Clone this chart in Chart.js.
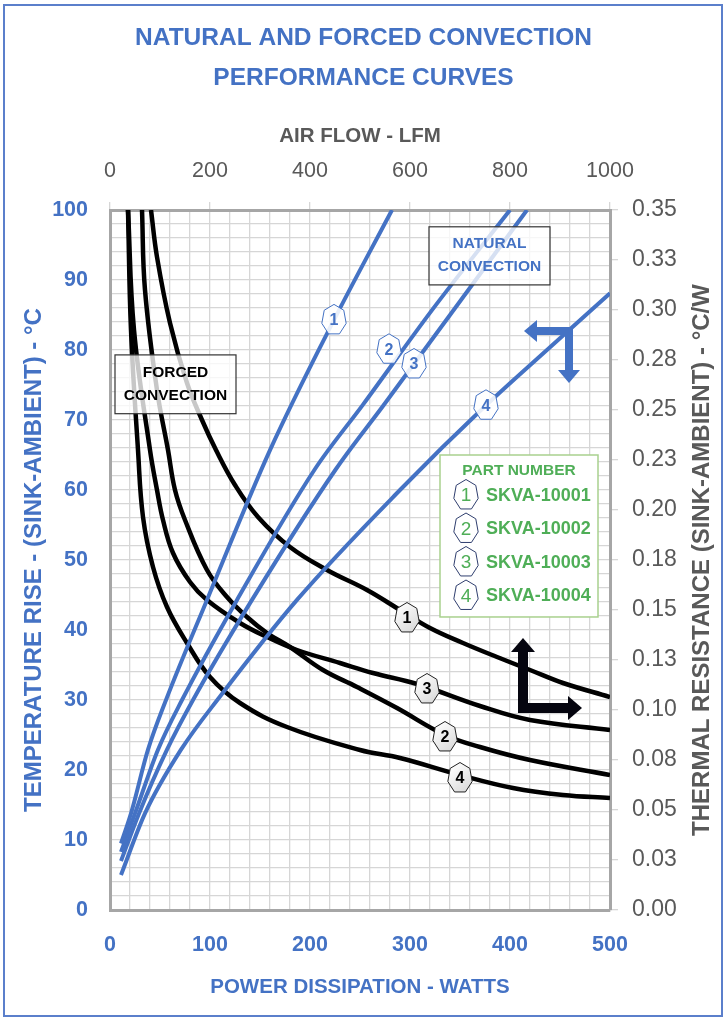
<!DOCTYPE html>
<html>
<head>
<meta charset="utf-8">
<title>Natural and Forced Convection Performance Curves</title>
<script src="https://cdn.jsdelivr.net/npm/chart.js@4.4.1/dist/chart.umd.min.js"></script>
<style>
  html, body { margin: 0; padding: 0; background: #fff; }
  #wrap { position: relative; width: 727px; height: 1024px; }
</style>
</head>
<body>
<div id="wrap"><canvas id="chart" width="727" height="1024"></canvas></div>
<script>
// --- natural convection: power dissipation (W) vs temperature rise (°C) ---
const natPower1 = [11, 21, 38, 56, 97, 160, 224, 282];
const natRise1  = [9.5, 13.8, 22.9, 30, 44.3, 65.7, 84.3, 100];
const natPower2 = [11, 25, 48, 72, 127, 205, 253, 322, 400];
const natRise2  = [8.3, 13.8, 22.9, 30, 44.3, 63, 72.2, 85.7, 100];
const natPower3 = [11, 29, 57, 83, 142, 226, 273, 340, 417];
const natRise3  = [7, 13.8, 22.9, 30, 44.3, 63, 72, 85, 100];
const natPower4 = [11, 35, 71, 110, 187, 290, 376, 440, 500];
const natRise4  = [5, 13.8, 22.9, 30.5, 44.3, 60, 72.1, 80.4, 88.1];

// --- forced convection: air flow (LFM) vs thermal resistance (°C/W) ---
const fcFlow1 = [82, 94, 120, 154, 184, 212, 250, 296, 360, 434, 514, 580, 640, 706, 774, 840, 906, 1000];
const fcRes1  = [0.35, 0.3265, 0.2935, 0.2635, 0.245, 0.23, 0.2125, 0.1965, 0.1815, 0.17, 0.16, 0.15, 0.141, 0.1335, 0.1265, 0.12, 0.1135, 0.1065];
const fcFlow2 = [64, 70, 94, 116, 130, 150, 194, 234, 274, 314, 360, 426, 494, 574, 670, 740, 840, 1000];
const fcRes2  = [0.35, 0.31, 0.26, 0.23, 0.21, 0.195, 0.17, 0.1565, 0.1465, 0.1385, 0.1315, 0.12, 0.1115, 0.101, 0.0875, 0.0815, 0.075, 0.0675];
const fcFlow3 = [36, 48, 80, 94, 106, 126, 160, 194, 260, 314, 374, 460, 526, 614, 740, 840, 1000];
const fcRes3  = [0.35, 0.29, 0.23, 0.21, 0.195, 0.1785, 0.164, 0.155, 0.1435, 0.1365, 0.13, 0.1235, 0.1185, 0.113, 0.102, 0.095, 0.09];
const fcFlow4 = [36, 42, 56, 66, 86, 114, 154, 200, 260, 354, 500, 580, 700, 806, 906, 1000];
const fcRes4  = [0.35, 0.29, 0.23, 0.1965, 0.1715, 0.1515, 0.1335, 0.1165, 0.1035, 0.0915, 0.08, 0.076, 0.0675, 0.061, 0.0575, 0.056];

// --- curve number tags (where the numbered badges sit) ---
const natTagPower = [224, 279, 304, 376];
const natTagRise  = [84.3, 80.1, 78, 72.1];
const fcTagFlow   = [594, 670, 634, 700];
const fcTagRes    = [0.146, 0.0865, 0.1105, 0.066];

// --- tick labels ---
const powerTicks = [0, 100, 200, 300, 400, 500];
const riseTicks  = [0, 10, 20, 30, 40, 50, 60, 70, 80, 90, 100];
const flowTicks  = [0, 200, 400, 600, 800, 1000];
const resTicks   = ['0.00', '0.03', '0.05', '0.08', '0.10', '0.13', '0.15', '0.18',
                    '0.20', '0.23', '0.25', '0.28', '0.30', '0.33', '0.35'];

const partNumbers = ['SKVA-10001', 'SKVA-10002', 'SKVA-10003', 'SKVA-10004'];

const BLUE = '#4472c4';
const GREY = '#595959';
const GREEN = '#4fae57';
const GRID = '#d6d6d6';
const FRAME = '#a6a6a6';
const SANS = '"Liberation Sans", Arial, sans-serif';

function zip(xs, ys) {
    return xs.map((v, i) => ({ x: v, y: ys[i] }));
}

function natSet(xs, ys) {
    return {
        data: zip(xs, ys), xAxisID: 'x', yAxisID: 'y',
        borderColor: BLUE, borderWidth: 4, showLine: true, pointRadius: 0,
        cubicInterpolationMode: 'monotone'
    };
}

function fcSet(xs, ys) {
    return {
        data: zip(xs, ys), xAxisID: 'x2', yAxisID: 'y2',
        borderColor: '#000', borderWidth: 4.5, showLine: true, pointRadius: 0,
        tension: 0.4
    };
}

// heptagon badge, one vertex pointing up
function heptagon(ctx, cx, cy, rx, ry) {
    ctx.beginPath();
    for (let i = 0; i < 7; i++) {
        const a = -Math.PI / 2 + i * 2 * Math.PI / 7;
        const px = cx + rx * Math.cos(a), py = cy + ry * Math.sin(a);
        if (i === 0) ctx.moveTo(px, py); else ctx.lineTo(px, py);
    }
    ctx.closePath();
}

function badge(ctx, cx, cy, txt, style) {
    heptagon(ctx, cx, cy, 12.5, 15.5);
    if (style === 'black') {
        const g = ctx.createLinearGradient(cx - 10, cy - 12, cx + 10, cy + 12);
        g.addColorStop(0, '#ffffff');
        g.addColorStop(1, '#d9d9d9');
        ctx.fillStyle = g;
    } else {
        ctx.fillStyle = 'rgba(255,255,255,0.88)';
    }
    ctx.fill();
    ctx.lineWidth = 1;
    ctx.strokeStyle = style === 'black' ? '#222' : (style === 'legend' ? '#2f3e6e' : BLUE);
    ctx.stroke();
    ctx.fillStyle = style === 'black' ? '#000' : (style === 'legend' ? GREEN : BLUE);
    ctx.font = (style === 'legend' ? '19px ' : 'bold 16px ') + SANS;
    ctx.textAlign = 'center';
    ctx.textBaseline = 'middle';
    ctx.fillText(txt, cx, cy + 1);
}

function noteBox(ctx, xs, ys, n) {
    const l = xs.getPixelForValue(n.x0), r = xs.getPixelForValue(n.x1);
    const t = ys.getPixelForValue(n.y1), b = ys.getPixelForValue(n.y0);
    ctx.fillStyle = 'rgba(255,255,255,0.78)';
    ctx.fillRect(l, t, r - l, b - t);
    ctx.lineWidth = 1.2;
    ctx.strokeStyle = '#333';
    ctx.strokeRect(l, t, r - l, b - t);
    ctx.fillStyle = n.color;
    ctx.font = 'bold 15.5px ' + SANS;
    ctx.textAlign = 'center';
    ctx.textBaseline = 'middle';
    const cx = (l + r) / 2, cy = (t + b) / 2;
    ctx.fillText(n.lines[0], cx, cy - 12);
    ctx.fillText(n.lines[1], cx, cy + 11);
}

// L-shaped double arrow; corner given in data units, arms in pixels
function cornerArrow(ctx, px, py, a) {
    const h = a.bar / 2;
    ctx.fillStyle = a.color;
    ctx.beginPath();
    ctx.rect(Math.min(px, px + a.hx), py + a.hy * h - h, Math.abs(a.hx), a.bar);
    ctx.rect(px + a.vx * h - h, Math.min(py, py + a.vy), a.bar, Math.abs(a.vy));
    ctx.fill();
    const hxEnd = px + a.hx, hyc = py + a.hy * h;
    const dir = Math.sign(a.hx);
    ctx.beginPath();
    ctx.moveTo(hxEnd, hyc - a.head);
    ctx.lineTo(hxEnd + dir * a.headLen, hyc);
    ctx.lineTo(hxEnd, hyc + a.head);
    ctx.closePath();
    ctx.fill();
    const vyEnd = py + a.vy, vxc = px + a.vx * h;
    const vdir = Math.sign(a.vy);
    ctx.beginPath();
    ctx.moveTo(vxc - a.head, vyEnd);
    ctx.lineTo(vxc, vyEnd + vdir * a.headLen);
    ctx.lineTo(vxc + a.head, vyEnd);
    ctx.closePath();
    ctx.fill();
}

const overlay = {
    id: 'overlay',
    beforeDraw(chart) {
        const { ctx } = chart;
        ctx.save();
        ctx.fillStyle = '#fff';
        ctx.fillRect(0, 0, chart.width, chart.height);
        ctx.restore();
    },
    afterDatasetsDraw(chart) {
        const { ctx } = chart;
        const { x, y, x2, y2 } = chart.scales;
        ctx.save();

        noteBox(ctx, x, y, { x0: 319, x1: 440, y0: 89.3, y1: 97.6, lines: ['NATURAL', 'CONVECTION'], color: BLUE });
        noteBox(ctx, x, y, { x0: 5, x1: 126, y0: 70.9, y1: 79.3, lines: ['FORCED', 'CONVECTION'], color: '#000' });

        // blue arrow -> left / bottom axes, black arrow -> top / right axes
        cornerArrow(ctx, x.getPixelForValue(463), y.getPixelForValue(83.3),
            { color: BLUE, bar: 8, hx: -36, hy: 1, vx: -1, vy: 43, head: 11, headLen: 13 });
        cornerArrow(ctx, x.getPixelForValue(408), y.getPixelForValue(28.15),
            { color: '#05050f', bar: 10, hx: 50, hy: -1, vx: 1, vy: -61, head: 12, headLen: 14 });

        natTagPower.forEach((p, i) => {
            badge(ctx, x.getPixelForValue(p), y.getPixelForValue(natTagRise[i]), String(i + 1), 'blue');
        });
        fcTagFlow.forEach((f, i) => {
            badge(ctx, x2.getPixelForValue(f), y2.getPixelForValue(fcTagRes[i]), String(i + 1), 'black');
        });

        // part number key
        const l = x.getPixelForValue(330), r = x.getPixelForValue(488);
        const t = y.getPixelForValue(65), b = y.getPixelForValue(41.86);
        ctx.fillStyle = '#fff';
        ctx.fillRect(l, t, r - l, b - t);
        ctx.lineWidth = 1.5;
        ctx.strokeStyle = '#a9d18e';
        ctx.strokeRect(l, t, r - l, b - t);
        ctx.fillStyle = GREEN;
        ctx.font = 'bold 15.5px ' + SANS;
        ctx.textAlign = 'center';
        ctx.textBaseline = 'middle';
        ctx.fillText('PART NUMBER', (l + r) / 2, t + 16);
        partNumbers.forEach((pn, i) => {
            const ry = t + 40 + i * 33.5;
            badge(ctx, l + 26, ry, String(i + 1), 'legend');
            ctx.fillStyle = GREEN;
            ctx.font = 'bold 18px ' + SANS;
            ctx.textAlign = 'left';
            ctx.textBaseline = 'middle';
            ctx.fillText(pn, l + 46, ry + 1);
        });
        ctx.restore();
    },
    afterDraw(chart) {
        const { ctx } = chart;
        const { y2 } = chart.scales;
        ctx.save();
        // right axis title reads bottom-to-top like the left one
        ctx.translate(702, (y2.top + y2.bottom) / 2);
        ctx.rotate(-Math.PI / 2);
        ctx.fillStyle = GREY;
        ctx.font = 'bold 24px ' + SANS;
        ctx.textAlign = 'center';
        ctx.textBaseline = 'middle';
        ctx.fillText('THERMAL RESISTANCE (SINK-AMBIENT) - °C/W', 0, 0);
        ctx.restore();
        // outer frame
        ctx.save();
        ctx.strokeStyle = '#5b7fcb';
        ctx.lineWidth = 2;
        ctx.strokeRect(4, 5, 718, 1011);
        ctx.restore();
    }
};

new Chart(document.getElementById('chart'), {
    type: 'scatter',
    data: {
        datasets: [
            natSet(natPower1, natRise1), natSet(natPower2, natRise2),
            natSet(natPower3, natRise3), natSet(natPower4, natRise4),
            fcSet(fcFlow1, fcRes1), fcSet(fcFlow2, fcRes2),
            fcSet(fcFlow3, fcRes3), fcSet(fcFlow4, fcRes4)
        ]
    },
    options: {
        responsive: false,
        animation: false,
        layout: { padding: 0 },
        plugins: {
            legend: { display: false },
            tooltip: { enabled: false },
            title: {
                display: true,
                text: ['NATURAL AND FORCED CONVECTION', 'PERFORMANCE CURVES'],
                color: BLUE,
                font: { family: SANS, size: 24.5, weight: 'bold', lineHeight: 40 / 24.5 },
                padding: { top: 18, bottom: 10 }
            }
        },
        scales: {
            x: {
                type: 'linear', position: 'bottom', min: 0, max: 500,
                afterFit: s => { s.height = 114; },
                ticks: {
                    stepSize: 20, autoSkip: false, maxRotation: 0, padding: 22,
                    color: BLUE, font: { family: SANS, size: 21.5, weight: 'bold' },
                    callback: v => powerTicks.includes(v) ? String(v) : ''
                },
                grid: { color: GRID, lineWidth: 1.3, drawTicks: false },
                border: { display: true, color: FRAME, width: 3 },
                title: {
                    display: true, text: 'POWER DISSIPATION - WATTS', color: BLUE,
                    font: { family: SANS, size: 20.5, weight: 'bold' },
                    padding: { top: 0, bottom: 24 }
                }
            },
            y: {
                type: 'linear', position: 'left', min: 0, max: 100,
                afterFit: s => { s.width = 110; },
                ticks: {
                    stepSize: 2, autoSkip: false, padding: 22,
                    color: BLUE, font: { family: SANS, size: 21.5, weight: 'bold' },
                    callback: v => riseTicks.includes(v) ? String(v) : ''
                },
                grid: { color: GRID, lineWidth: 1.3, drawTicks: false },
                border: { display: true, color: FRAME, width: 3 },
                title: {
                    display: true, text: 'TEMPERATURE RISE - (SINK-AMBIENT) - °C', color: BLUE,
                    font: { family: SANS, size: 24, weight: 'bold' },
                    padding: { top: 20, bottom: 0 }
                }
            },
            x2: {
                type: 'linear', position: 'top', min: 0, max: 1000,
                afterFit: s => { s.height = 102; },
                ticks: {
                    stepSize: 200, autoSkip: false, maxRotation: 0, padding: 18,
                    color: GREY, font: { family: SANS, size: 21.5 },
                    callback: v => flowTicks.includes(v) ? String(v) : ''
                },
                grid: { drawOnChartArea: false, drawTicks: true, tickLength: 8, color: GRID, lineWidth: 1.3 },
                border: { display: true, color: FRAME, width: 3 },
                title: {
                    display: true, text: 'AIR FLOW - LFM', color: GREY,
                    font: { family: SANS, size: 20.5, weight: 'bold' },
                    padding: { top: 16, bottom: 0 }
                }
            },
            y2: {
                type: 'linear', position: 'right', min: 0, max: 0.35,
                afterFit: s => { s.width = 117; },
                ticks: {
                    stepSize: 0.025, autoSkip: false, padding: 14,
                    color: GREY, font: { family: SANS, size: 23 },
                    callback: (v, i) => resTicks[i]
                },
                grid: { drawOnChartArea: false, drawTicks: true, tickLength: 8, color: GRID, lineWidth: 1.3 },
                border: { display: true, color: FRAME, width: 3 }
            }
        }
    },
    plugins: [overlay]
});
</script>
</body>
</html>
